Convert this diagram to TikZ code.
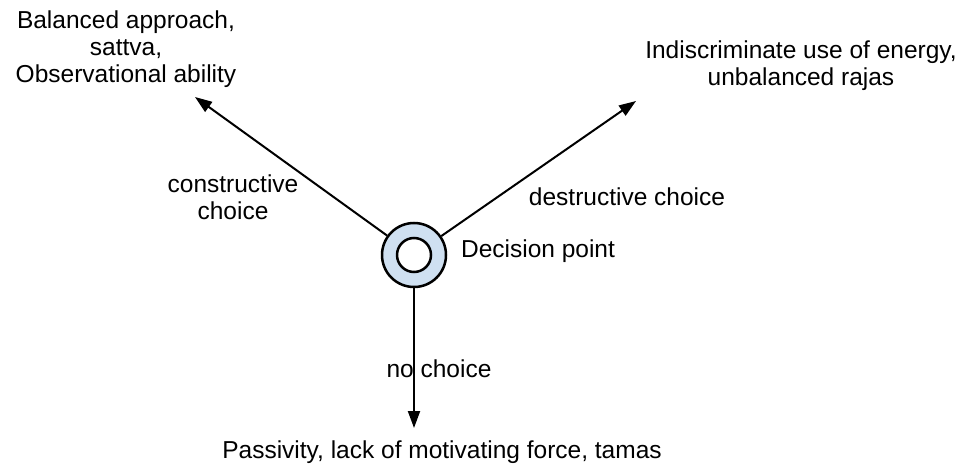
\documentclass[tikz,border=0pt]{standalone}
\usepackage{fontspec}
\setmainfont{Liberation Sans}
\usetikzlibrary{arrows.meta}
\definecolor{ringblue}{RGB}{207,224,241}
\begin{document}
\begin{tikzpicture}[x=1pt,y=-1pt,
  lbl/.style={inner sep=0pt, align=center, font=\fontsize{24.5}{27}\selectfont},
  arr/.style={line width=2pt, -{Triangle[length=17pt,width=12pt]}}]
\useasboundingbox (0,0) rectangle (968,473);
\node (c) [circle, draw, line width=2.5pt, fill=ringblue, minimum size=64pt, inner sep=0pt] at (414,255) {};
\node (ci) [circle, draw, line width=2.5pt, fill=white, minimum size=34pt, inner sep=0pt] at (414,255) {};
\coordinate (tl) at (195,97);
\coordinate (tr) at (636,101);
\coordinate (bt) at (414,428);
\draw[arr] (c) -- (tl);
\draw[arr] (c) -- (tr);
\draw[arr] (c) -- (bt);
\node (sattva) [lbl] at (126,49) {Balanced approach,\\sattva,\\Observational ability};
\node (rajas) [lbl] at (801,66) {Indiscriminate use of energy,\\unbalanced rajas};
\node (constr) [lbl] at (233,197) {constructive\\choice};
\node (destr) [lbl] at (627,197) {destructive choice};
\node (dp) [lbl] at (538,251) {Decision point};
\node (noch) [lbl] at (439,369) {no choice};
\node (tamas) [lbl] at (442,452) {Passivity, lack of motivating force, tamas};
\end{tikzpicture}
\end{document}
